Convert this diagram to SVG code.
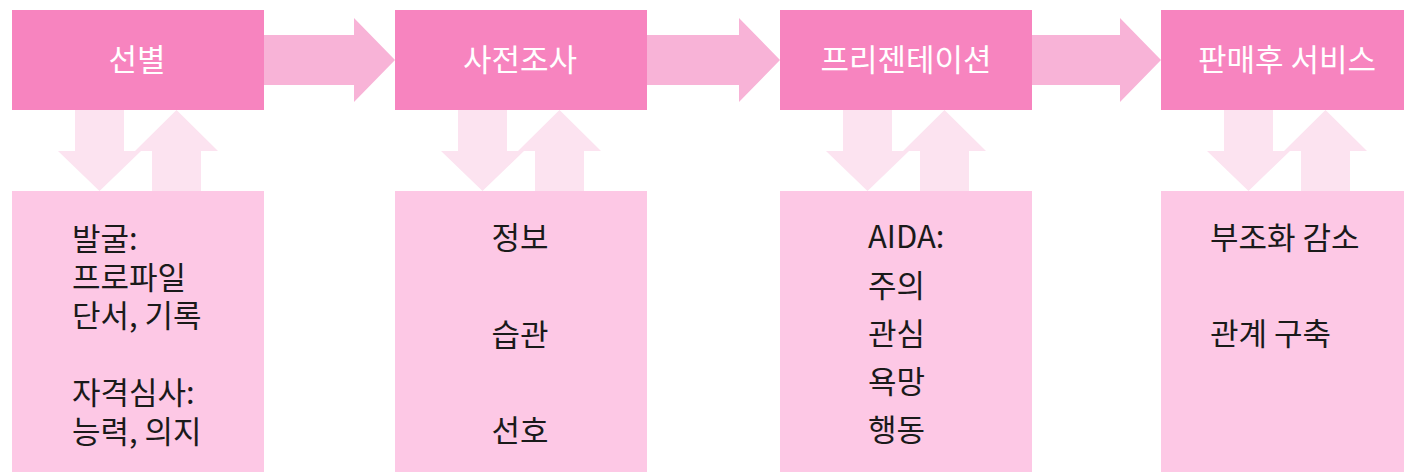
<svg xmlns="http://www.w3.org/2000/svg" width="1404" height="472" viewBox="0 0 1404 472">
<style>
.head{fill:#F784BF}
.body{fill:#FDC8E5}
.harrow{fill:#F8B3D7}
.varrow{fill:#FCE3F0}
.title{font-family:"Noto Sans CJK KR","Liberation Sans",sans-serif;font-size:31px;fill:#ffffff;text-anchor:middle}
.txt{font-family:"Noto Sans CJK KR","Liberation Sans",sans-serif;font-size:31px;fill:#1a1a1a}
.c{text-anchor:middle}
</style>
<rect width="1404" height="472" fill="#ffffff"/>
<g id="connectors">
  <polygon class="harrow" points="264,35 354,35 354,18 395,60 354,102 354,85 264,85"/>
  <polygon class="harrow" points="647,35 739,35 739,18 780,60 739,102 739,85 647,85"/>
  <polygon class="harrow" points="1032,35 1120,35 1120,18 1161,60 1120,102 1120,85 1032,85"/>
  <g id="v1" transform="translate(12,0)">
    <polygon class="varrow" points="63,110 112,110 112,151 129,151 87.5,191 46,151 63,151"/>
    <polygon class="varrow" points="164.5,110 206,151 189,151 189,191 140,191 140,151 123,151"/>
  </g>
  <g id="v2" transform="translate(395,0)">
    <polygon class="varrow" points="63,110 112,110 112,151 129,151 87.5,191 46,151 63,151"/>
    <polygon class="varrow" points="164.5,110 206,151 189,151 189,191 140,191 140,151 123,151"/>
  </g>
  <g id="v3" transform="translate(780,0)">
    <polygon class="varrow" points="63,110 112,110 112,151 129,151 87.5,191 46,151 63,151"/>
    <polygon class="varrow" points="164.5,110 206,151 189,151 189,191 140,191 140,151 123,151"/>
  </g>
  <g id="v4" transform="translate(1161,0)">
    <polygon class="varrow" points="63,110 112,110 112,151 129,151 87.5,191 46,151 63,151"/>
    <polygon class="varrow" points="164.5,110 206,151 189,151 189,191 140,191 140,151 123,151"/>
  </g>
</g>
<g id="stage1">
  <rect class="head" x="12" y="10" width="252" height="100"/>
  <text class="title" x="137" y="71">선별</text>
</g>
<g id="stage2">
  <rect class="head" x="395" y="10" width="252" height="100"/>
  <text class="title" x="520" y="71">사전조사</text>
</g>
<g id="stage3">
  <rect class="head" x="780" y="10" width="252" height="100"/>
  <text class="title" x="906" y="71">프리젠테이션</text>
</g>
<g id="stage4">
  <rect class="head" x="1161" y="10" width="243" height="100"/>
  <text class="title" x="1287" y="71">판매후 서비스</text>
</g>
<g id="detail1">
  <rect class="body" x="12" y="191" width="252" height="281"/>
  <text class="txt" x="72" y="250">발굴:</text>
  <text class="txt" x="72" y="288.5">프로파일</text>
  <text class="txt" x="72" y="327">단서, 기록</text>
  <text class="txt" x="72" y="404">자격심사:</text>
  <text class="txt" x="72" y="442.5">능력, 의지</text>
</g>
<g id="detail2">
  <rect class="body" x="395" y="191" width="252" height="281"/>
  <text class="txt c" x="520" y="249">정보</text>
  <text class="txt c" x="520" y="346">습관</text>
  <text class="txt c" x="520" y="442">선호</text>
</g>
<g id="detail3">
  <rect class="body" x="780" y="191" width="252" height="281"/>
  <text class="txt" x="868" y="248">AIDA:</text>
  <text class="txt" x="868" y="297">주의</text>
  <text class="txt" x="868" y="345">관심</text>
  <text class="txt" x="868" y="393">욕망</text>
  <text class="txt" x="868" y="441">행동</text>
</g>
<g id="detail4">
  <rect class="body" x="1161" y="191" width="243" height="281"/>
  <text class="txt" x="1210" y="249">부조화 감소</text>
  <text class="txt" x="1210" y="345">관계 구축</text>
</g>
</svg>
